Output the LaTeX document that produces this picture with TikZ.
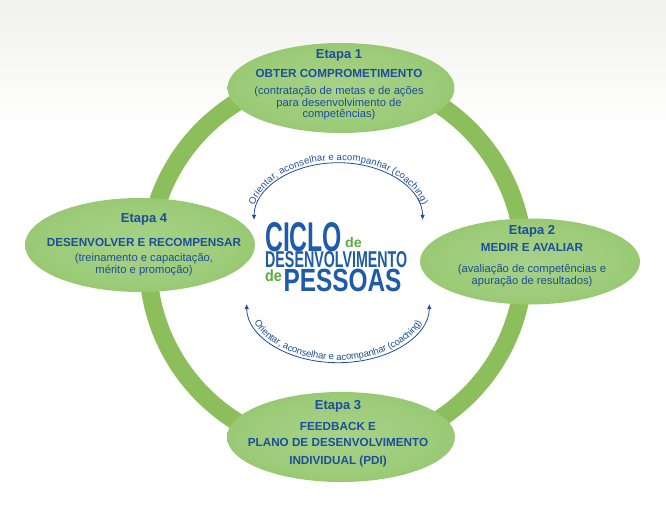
\documentclass[tikz,border=0pt]{standalone}
\usepackage{fontspec}
\setmainfont{Liberation Sans}
\usetikzlibrary{arrows.meta,decorations.text,shapes.geometric}
\definecolor{ringg}{HTML}{8CBF5C}
\definecolor{tblue}{HTML}{1C4E9A}
\definecolor{titleblue}{HTML}{1E5BAA}
\definecolor{degreen}{HTML}{5BAA3C}
\definecolor{bgtop}{HTML}{F1F1EE}
\definecolor{ellin}{HTML}{A8D288}
\definecolor{ellmid}{HTML}{9CCB78}
\definecolor{ellout}{HTML}{84BA53}
\pgfdeclareradialshading{stageshade}{\pgfpoint{0bp}{0bp}}{color(0bp)=(ellin); color(22bp)=(ellmid); color(42bp)=(ellout); color(50bp)=(ellout)}
\tikzset{
  stage/.style={ellipse, inner sep=0pt, shading=stageshade},
  ln/.style={anchor=base, inner sep=0pt, text=tblue},
  etapa/.style={ln, font=\fontsize{13}{15}\selectfont\bfseries},
  head/.style={ln, font=\fontsize{11.7}{14}\selectfont\bfseries},
  paren/.style={ln, font=\fontsize{11.2}{13}\selectfont},
  coach/.style={draw=tblue, line width=0.8pt, {Latex[length=5pt,width=4.5pt]}-{Latex[length=5pt,width=4.5pt]}},
  ttl/.style={anchor=south west, inner sep=0pt, text=titleblue, font=\bfseries},
  tde/.style={anchor=south west, inner sep=0pt, text=degreen, font=\bfseries}
}
\begin{document}
\begin{tikzpicture}[x=1pt,y=1pt]
\useasboundingbox (0,0) rectangle (666,-521);
\fill[white] (0,0) rectangle (666,-521);
\shade[top color=bgtop, bottom color=white] (0,0) rectangle (666,-130);
% ring
\node[circle, draw=ringg, line width=18pt, minimum size=376pt, inner sep=0pt] (ring) at (336,-262) {};
% coaching arcs
\coordinate (ta) at (254,-220);
\coordinate (ba) at (246.7,-304);
\draw[coach] (ta) arc[start angle=180, end angle=0, x radius=84.3, y radius=57.3];
\path[decorate, decoration={text along path, text={|\fontsize{9.5}{11}\selectfont\color{tblue}|Orientar, aconselhar e acompanhar (coaching)}, text align=center, raise=2.5pt}] (ta) arc[start angle=180, end angle=0, x radius=84.3, y radius=57.3];
\draw[coach] (ba) arc[start angle=180, end angle=360, x radius=91.3, y radius=58.7];
\path[decorate, decoration={text along path, text={|\fontsize{9.5}{11}\selectfont\color{tblue}|Orientar, aconselhar e acompanhar (coaching)}, text align=center, raise=2.5pt}] (ba) arc[start angle=180, end angle=360, x radius=91.3, y radius=58.7];
% stages
\node[stage, minimum width=227pt, minimum height=90pt] (e1) at (341,-88) {};
\node[stage, minimum width=230pt, minimum height=94pt] (e4) at (140,-245) {};
\node[stage, minimum width=220pt, minimum height=86pt] (e2) at (530,-261.5) {};
\node[stage, minimum width=228pt, minimum height=90pt] (e3) at (341,-437) {};
% stage 1 text
\node[etapa] (e1a) at (339,-59) {Etapa 1};
\node[head] (e1b) at (339,-77.3) {OBTER COMPROMETIMENTO};
\node[paren] (e1c) at (339,-95) {(contratação de metas e de ações};
\node[paren] (e1d) at (339,-106.5) {para desenvolvimento de};
\node[paren] (e1e) at (339,-118) {competências)};
% stage 4 text
\node[etapa] (e4a) at (144,-222.7) {Etapa 4};
\node[head] (e4b) at (144,-246.7) {DESENVOLVER E RECOMPENSAR};
\node[paren] (e4c) at (144,-261.7) {(treinamento e capacitação,};
\node[paren] (e4d) at (144,-273.3) {mérito e promoção)};
% stage 2 text
\node[etapa] (e2a) at (532,-235) {Etapa 2};
\node[head] (e2b) at (532,-251.7) {MEDIR E AVALIAR};
\node[paren] (e2c) at (532,-272.7) {(avaliação de competências e};
\node[paren] (e2d) at (532,-284) {apuração de resultados)};
% stage 3 text
\node[etapa] (e3a) at (338,-409) {Etapa 3};
\node[head] (e3b) at (338,-430) {FEEDBACK E};
\node[head] (e3c) at (338,-446.7) {PLANO DE DESENVOLVIMENTO};
\node[head] (e3d) at (338,-464) {INDIVIDUAL (PDI)};
% title
\node[ttl] (tc) at (265,-252) {\resizebox{77pt}{29pt}{CICLO}};
\node[tde] (td1) at (345,-248.3) {\resizebox{16.7pt}{10pt}{de}};
\node[ttl] (tdv) at (265,-267.7) {\resizebox{142pt}{16pt}{DESENVOLVIMENTO}};
\node[tde] (td2) at (265,-281.7) {\resizebox{16.7pt}{11.7pt}{de}};
\node[ttl] (tp) at (283.3,-291.7) {\resizebox{118pt}{22.4pt}{PESSOAS}};
\end{tikzpicture}
\end{document}
